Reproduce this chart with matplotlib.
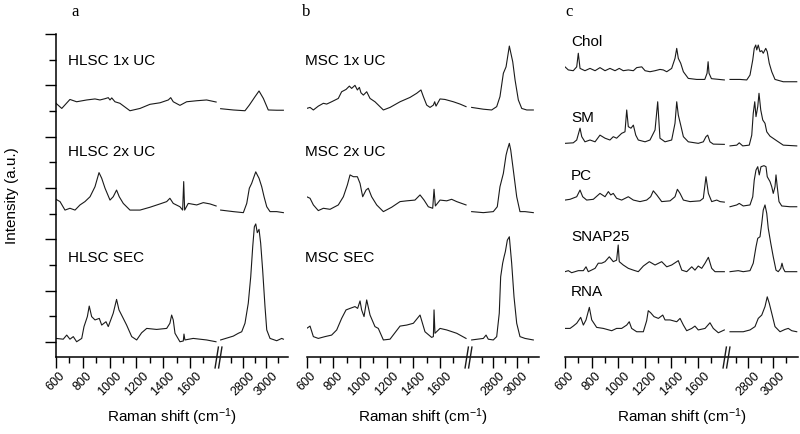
import numpy as np
import matplotlib
matplotlib.use("Agg")
import matplotlib.pyplot as plt
from matplotlib.path import Path
from matplotlib.transforms import blended_transform_factory

plt.rcParams['font.family'] = ['Liberation Sans', 'DejaVu Sans']
plt.rcParams['mathtext.fontset'] = 'custom'
plt.rcParams['mathtext.rm'] = 'Liberation Sans'
plt.rcParams['mathtext.it'] = 'Liberation Sans:italic'

# ---------------- data (Raman shift cm-1, intensity a.u. incl. stack offset) ----------------
# fp = fingerprint region, ch = C-H stretch region

hlsc_1x_fp_x = [600, 643, 704, 754, 829, 891, 928, 966, 990, 1003, 1016, 1040, 1077, 1152, 1227, 1301,
                1376, 1438, 1456, 1475, 1525, 1575, 1650, 1724, 1795]
hlsc_1x_fp_y = [9.30, 9.10, 9.45, 9.36, 9.43, 9.47, 9.43, 9.48, 9.52, 9.43, 9.51, 9.36, 9.30, 9.01, 9.10, 9.26,
                9.32, 9.43, 9.52, 9.36, 9.22, 9.36, 9.40, 9.43, 9.35]
hlsc_1x_ch_x = [2609, 2717, 2817, 2854, 2903, 2937, 2974, 3016, 3088, 3145]
hlsc_1x_ch_y = [9.09, 9.04, 9.01, 9.23, 9.56, 9.78, 9.49, 9.04, 9.03, 9.03]

hlsc_2x_fp_x = [600, 630, 667, 704, 742, 779, 816, 854, 891, 921, 941, 966, 1003, 1027, 1052, 1072, 1102,
                1152, 1227, 1301, 1376, 1426, 1450, 1475, 1525, 1545, 1553, 1560, 1587, 1650, 1699, 1749, 1795]
hlsc_2x_fp_y = [5.56, 5.47, 5.14, 5.21, 5.14, 5.34, 5.47, 5.66, 6.05, 6.60, 6.38, 5.99, 5.53, 5.66, 5.92, 5.66,
                5.40, 5.14, 5.14, 5.25, 5.38, 5.47, 5.60, 5.40, 5.27, 5.14, 6.25, 5.14, 5.40, 5.34, 5.43, 5.38, 5.30]
hlsc_2x_ch_x = [2609, 2717, 2803, 2832, 2854, 2874, 2894, 2909, 2922, 2937, 2960, 2980, 3003, 3031, 3088, 3145]
hlsc_2x_ch_y = [5.14, 5.08, 5.04, 5.40, 5.99, 6.18, 6.44, 6.63, 6.51, 6.38, 6.05, 5.66, 5.27, 5.08, 5.08, 5.04]

hlsc_sec_fp_x = [600, 654, 680, 704, 729, 754, 792, 809, 834, 848, 866, 891, 923, 941, 973, 990, 1027, 1052,
                 1070, 1102, 1127, 1165, 1202, 1239, 1277, 1351, 1426, 1450, 1463, 1475, 1488, 1525, 1550,
                 1555, 1562, 1624, 1674, 1724, 1794]
hlsc_sec_fp_y = [0.14, 0.11, 0.27, 0.11, 0.21, 0.01, 0.14, 0.60, 0.99, 1.40, 0.99, 0.86, 0.92, 0.66, 0.79,
                 0.60, 1.12, 1.66, 1.25, 0.92, 0.66, 0.21, 0.08, 0.36, 0.53, 0.49, 0.53, 0.73, 1.05, 0.86,
                 0.34, 0.01, 0.04, 0.31, 0.08, 0.14, 0.11, 0.08, 0.01]
hlsc_sec_ch_x = [2609, 2717, 2760, 2789, 2817, 2845, 2866, 2883, 2897, 2909, 2922, 2937, 2951, 2968, 2988,
                 3003, 3031, 3088, 3131, 3145]
hlsc_sec_ch_y = [0.08, 0.23, 0.34, 0.40, 0.73, 1.51, 2.54, 3.71, 4.49, 4.60, 4.26, 4.39, 3.85, 2.80, 1.38,
                 0.47, 0.14, 0.05, 0.14, 0.11]

msc_1x_fp_x = [600, 625, 650, 687, 725, 750, 787, 837, 862, 895, 920, 937, 962, 980, 995, 1007, 1025, 1050,
               1075, 1112, 1175, 1225, 1300, 1375, 1425, 1457, 1475, 1500, 1525, 1550, 1560, 1570, 1600,
               1637, 1700, 1750, 1795]
msc_1x_fp_y = [9.10, 9.14, 9.04, 9.19, 9.30, 9.27, 9.36, 9.49, 9.75, 9.84, 9.97, 9.88, 10.00, 9.82, 9.92,
               9.71, 9.62, 9.75, 9.49, 9.36, 9.04, 9.14, 9.36, 9.53, 9.69, 9.82, 9.56, 9.23, 9.14, 9.23,
               9.36, 9.19, 9.47, 9.45, 9.36, 9.27, 9.17]
msc_1x_ch_x = [2615, 2715, 2786, 2829, 2857, 2886, 2909, 2937, 2966, 2986, 3014, 3043, 3086, 3142]
msc_1x_ch_y = [9.14, 9.07, 9.04, 9.17, 9.56, 10.47, 10.72, 11.53, 10.92, 10.21, 9.43, 9.10, 9.04, 9.04]

msc_2x_fp_x = [600, 625, 650, 687, 725, 775, 837, 875, 905, 925, 950, 980, 1000, 1020, 1045, 1062, 1087,
               1125, 1175, 1237, 1300, 1350, 1412, 1450, 1480, 1512, 1545, 1555, 1565, 1600, 1650, 1687,
               1725, 1795]
msc_2x_fp_y = [5.66, 5.60, 5.34, 5.12, 5.21, 5.17, 5.34, 5.66, 6.12, 6.51, 6.44, 6.44, 6.18, 5.66, 5.92,
               5.99, 5.66, 5.34, 5.08, 5.25, 5.47, 5.50, 5.53, 5.73, 5.53, 5.27, 5.21, 5.95, 5.30, 5.53,
               5.50, 5.56, 5.47, 5.34]
msc_2x_ch_x = [2615, 2715, 2800, 2834, 2857, 2886, 2909, 2920, 2937, 2949, 2971, 3000, 3028, 3071, 3142]
msc_2x_ch_y = [5.08, 5.04, 5.08, 5.27, 6.05, 6.57, 7.28, 7.48, 7.74, 7.48, 6.70, 5.66, 5.08, 5.08, 5.04]

msc_sec_fp_x = [600, 625, 650, 687, 737, 787, 825, 862, 895, 925, 962, 982, 1000, 1012, 1030, 1050, 1075,
                1112, 1137, 1175, 1225, 1300, 1350, 1400, 1450, 1487, 1537, 1550, 1555, 1562, 1600, 1650,
                1725, 1795]
msc_sec_fp_y = [0.53, 0.62, 0.21, 0.14, 0.21, 0.27, 0.47, 0.92, 1.25, 1.31, 1.38, 1.31, 1.60, 1.25, 0.99,
                1.64, 1.05, 0.60, 0.53, 0.08, 0.11, 0.62, 0.66, 0.73, 1.05, 0.40, 0.18, 0.21, 1.25, 0.34,
                0.53, 0.47, 0.34, 0.14]
msc_sec_ch_x = [2615, 2715, 2738, 2757, 2800, 2829, 2851, 2863, 2880, 2892, 2903, 2920, 2937, 2957, 2977,
                3000, 3028, 3071, 3142]
msc_sec_ch_y = [0.08, 0.14, 0.27, 0.11, 0.08, 0.21, 1.12, 2.54, 3.07, 3.32, 3.52, 3.97, 4.10, 3.07, 1.76,
                0.73, 0.21, 0.14, 0.08]

chol_fp_x = [600, 625, 662, 688, 700, 713, 750, 788, 826, 863, 901, 938, 976, 1008, 1038, 1076, 1114, 1139,
             1177, 1202, 1239, 1277, 1314, 1339, 1365, 1402, 1427, 1440, 1452, 1470, 1490, 1527, 1590, 1651,
             1668, 1676, 1683, 1701, 1798]
chol_fp_y = [10.72, 10.60, 10.57, 10.72, 11.25, 10.66, 10.57, 10.66, 10.57, 10.69, 10.57, 10.66, 10.57,
             10.66, 10.57, 10.60, 10.57, 10.69, 10.72, 10.57, 10.53, 10.57, 10.62, 10.60, 10.53, 10.66,
             11.05, 11.44, 11.05, 10.86, 10.53, 10.27, 10.23, 10.23, 10.47, 10.92, 10.47, 10.26, 10.21]
chol_ch_x = [2656, 2736, 2790, 2816, 2838, 2850, 2862, 2870, 2882, 2896, 2910, 2922, 2942, 2954, 2970, 2990,
             3016, 3082, 3190]
chol_ch_y = [10.23, 10.23, 10.21, 10.40, 10.99, 11.44, 11.57, 11.38, 11.57, 11.31, 11.35, 11.25, 11.44,
             11.31, 10.86, 10.53, 10.23, 10.14, 10.14]

sm_fp_x = [600, 662, 688, 713, 726, 750, 788, 826, 863, 901, 938, 963, 988, 1026, 1051, 1064, 1076, 1096,
           1114, 1132, 1151, 1202, 1239, 1277, 1297, 1314, 1352, 1402, 1427, 1440, 1452, 1470, 1490, 1527,
           1602, 1640, 1660, 1673, 1690, 1715, 1798]
sm_fp_y = [7.74, 7.76, 7.87, 8.33, 8.00, 7.80, 7.87, 7.80, 8.06, 7.94, 7.87, 8.00, 7.94, 8.13, 8.19, 9.04,
           8.39, 8.33, 8.45, 8.06, 7.87, 7.80, 7.87, 8.26, 9.36, 7.94, 7.80, 7.87, 8.52, 9.36, 8.84, 8.45,
           8.00, 7.80, 7.74, 7.80, 8.00, 8.06, 7.80, 7.71, 7.70]
sm_ch_x = [2656, 2710, 2730, 2758, 2810, 2830, 2842, 2854, 2864, 2878, 2888, 2902, 2918, 2936, 2950, 2976,
           3030, 3082, 3190]
sm_ch_y = [7.64, 7.67, 7.76, 7.64, 7.67, 8.06, 8.91, 9.36, 8.78, 9.17, 9.69, 9.04, 8.65, 8.52, 8.19, 8.02,
           7.84, 7.67, 7.64]

pc_fp_x = [600, 638, 688, 713, 733, 763, 813, 863, 901, 926, 944, 963, 988, 1026, 1076, 1114, 1164, 1214,
           1244, 1264, 1290, 1327, 1390, 1427, 1445, 1465, 1490, 1540, 1615, 1640, 1660, 1678, 1703, 1741,
           1766, 1798]
pc_fp_y = [5.53, 5.56, 5.66, 5.92, 5.66, 5.53, 5.56, 5.79, 5.66, 5.86, 5.73, 5.79, 5.60, 5.53, 5.66, 5.53,
           5.47, 5.53, 5.66, 5.89, 5.73, 5.47, 5.50, 5.66, 5.95, 5.79, 5.53, 5.47, 5.50, 5.60, 6.44, 5.79,
           5.47, 5.53, 5.47, 5.45]
pc_ch_x = [2656, 2710, 2730, 2762, 2816, 2838, 2850, 2864, 2878, 2890, 2904, 2928, 2944, 2954, 2976, 2990,
           3002, 3016, 3024, 3034, 3048, 3070, 3136, 3190]
pc_ch_y = [5.27, 5.34, 5.40, 5.30, 5.34, 5.66, 6.31, 6.70, 6.83, 6.51, 6.83, 6.87, 6.83, 6.44, 6.25, 6.05,
           5.79, 6.05, 6.51, 6.05, 5.47, 5.30, 5.27, 5.27]

snap25_fp_x = [600, 625, 650, 700, 738, 758, 775, 826, 850, 876, 901, 933, 963, 988, 1000, 1008, 1038, 1076,
               1114, 1151, 1189, 1234, 1277, 1327, 1365, 1402, 1452, 1478, 1515, 1553, 1577, 1602, 1628,
               1653, 1678, 1703, 1728, 1798]
snap25_fp_y = [2.74, 2.78, 2.70, 2.78, 2.78, 2.93, 2.74, 2.87, 3.07, 3.07, 3.13, 3.32, 3.13, 3.19, 3.78,
               3.13, 3.00, 2.87, 2.80, 2.74, 2.96, 3.13, 3.00, 3.13, 2.93, 3.00, 3.17, 2.80, 2.74, 2.93,
               2.80, 2.96, 2.87, 3.07, 3.30, 2.87, 2.74, 2.74]
snap25_ch_x = [2656, 2722, 2762, 2816, 2842, 2864, 2878, 2896, 2910, 2922, 2936, 2950, 2962, 2982, 3002,
               3024, 3042, 3062, 3072, 3082, 3096, 3190]
snap25_ch_y = [2.74, 2.78, 2.74, 2.78, 3.07, 3.71, 4.04, 4.10, 4.62, 5.14, 5.34, 5.01, 4.43, 3.85, 3.32,
               2.80, 2.74, 2.87, 3.07, 2.87, 2.74, 2.74]

rna_fp_x = [600, 638, 662, 688, 718, 738, 758, 783, 801, 838, 888, 951, 988, 1026, 1064, 1083, 1101, 1139,
            1189, 1214, 1226, 1244, 1269, 1302, 1335, 1352, 1390, 1440, 1465, 1490, 1515, 1553, 1577, 1602,
            1653, 1690, 1715, 1753, 1798]
rna_fp_y = [0.53, 0.53, 0.62, 0.73, 0.96, 0.66, 0.86, 1.35, 0.86, 0.57, 0.53, 0.44, 0.53, 0.53, 0.66, 0.79,
            0.53, 0.40, 0.40, 0.83, 1.22, 1.14, 0.99, 0.92, 1.05, 0.86, 0.86, 0.79, 0.92, 0.66, 0.44, 0.53,
            0.62, 0.47, 0.53, 0.75, 0.53, 0.36, 0.47]
rna_ch_x = [2656, 2762, 2816, 2856, 2882, 2910, 2936, 2954, 2970, 2990, 3016, 3056, 3096, 3122, 3150, 3190]
rna_ch_y = [0.40, 0.40, 0.47, 0.60, 0.92, 1.05, 1.38, 1.76, 1.51, 1.12, 0.60, 0.40, 0.49, 0.53, 0.44, 0.40]

panel_letters = ['a', 'b', 'c']
labels_a = ['HLSC 1x UC', 'HLSC 2x UC', 'HLSC SEC']
labels_b = ['MSC 1x UC', 'MSC 2x UC', 'MSC SEC']
labels_c = ['Chol', 'SM', 'PC', 'SNAP25', 'RNA']
label_y_ab = [10.95, 7.40, 3.27]
label_y_c = [11.69, 8.73, 6.47, 4.09, 1.95]

major_ticks = [600, 800, 1000, 1200, 1400, 1600, 2800, 3000]
minor_ticks = [700, 900, 1100, 1300, 1500, 1700, 2700, 2900, 3100]

# ---------------- layout ----------------
W, H = 800, 434
fig = plt.figure(figsize=(W / 100, H / 100), dpi=100)

y_top, y_bot = 34, 357
# per panel: axes left/right in px, knot data values -> px positions (broken axis)
panels = [
    dict(x0=56, x1=288, dk=[600, 1800, 2600, 3200], pk=[56, 216.8, 219.6, 289.8]),
    dict(x0=306.7, x1=539, dk=[600, 1800, 2600, 3200], pk=[306.7, 466.7, 469.9, 540.1]),
    dict(x0=565, x1=798, dk=[600, 1800, 2640, 3200], pk=[565, 724.6, 728, 798]),
]

spectra = [
    [(hlsc_1x_fp_x, hlsc_1x_fp_y, hlsc_1x_ch_x, hlsc_1x_ch_y),
     (hlsc_2x_fp_x, hlsc_2x_fp_y, hlsc_2x_ch_x, hlsc_2x_ch_y),
     (hlsc_sec_fp_x, hlsc_sec_fp_y, hlsc_sec_ch_x, hlsc_sec_ch_y)],
    [(msc_1x_fp_x, msc_1x_fp_y, msc_1x_ch_x, msc_1x_ch_y),
     (msc_2x_fp_x, msc_2x_fp_y, msc_2x_ch_x, msc_2x_ch_y),
     (msc_sec_fp_x, msc_sec_fp_y, msc_sec_ch_x, msc_sec_ch_y)],
    [(chol_fp_x, chol_fp_y, chol_ch_x, chol_ch_y),
     (sm_fp_x, sm_fp_y, sm_ch_x, sm_ch_y),
     (pc_fp_x, pc_fp_y, pc_ch_x, pc_ch_y),
     (snap25_fp_x, snap25_fp_y, snap25_ch_x, snap25_ch_y),
     (rna_fp_x, rna_fp_y, rna_ch_x, rna_ch_y)],
]
texts = [(labels_a, label_y_ab, 690), (labels_b, label_y_ab, 590), (labels_c, label_y_c, 645)]
letter_px = [75, 306, 569]

# "//" break marker
brk = Path([(-3.5, -11), (0, 11), (0, -11), (3.5, 11)],
           [Path.MOVETO, Path.LINETO, Path.MOVETO, Path.LINETO])


def make_scale(dk, pk):
    dk = list(dk)
    pk = list(pk)
    s0 = (pk[1] - pk[0]) / (dk[1] - dk[0])
    s1 = (pk[-1] - pk[-2]) / (dk[-1] - dk[-2])
    dke = np.array([dk[0] - 1e5] + dk + [dk[-1] + 1e5])
    pke = np.array([pk[0] - 1e5 * s0] + pk + [pk[-1] + 1e5 * s1])

    def fwd(x):
        return np.interp(x, dke, pke)

    def inv(p):
        return np.interp(p, pke, dke)
    return fwd, inv


for i, p in enumerate(panels):
    ax = fig.add_axes([p['x0'] / W, (H - y_bot) / H, (p['x1'] - p['x0']) / W, (y_bot - y_top) / H])
    fwd, inv = make_scale(p['dk'], p['pk'])
    ax.set_xscale('function', functions=(fwd, inv))
    ax.set_xlim(600, float(inv(p['x1'])))
    ax.set_ylim(-0.584, 12)

    for fx, fy, cx, cy in spectra[i]:
        ax.plot(fx, fy, color='#1a1a1a', lw=0.8)
        ax.plot(cx, cy, color='#1a1a1a', lw=0.8)

    names, ys, tx = texts[i]
    for name, ty in zip(names, ys):
        ax.text(tx, ty, name, fontsize=11, va='center', ha='left')

    ax.set_xticks(major_ticks)
    ax.set_xticks(minor_ticks, minor=True)
    ax.set_xticklabels([str(t) for t in major_ticks], rotation=45, fontsize=9)
    ax.tick_params(axis='x', which='major', direction='out', length=8, width=1.0, pad=1)
    ax.tick_params(axis='x', which='minor', direction='out', length=4.5, width=1.0)

    for s in ['top', 'right']:
        ax.spines[s].set_visible(False)
    ax.spines['bottom'].set_linewidth(1.1)
    if i == 0:
        ax.spines['left'].set_linewidth(1.1)
        ax.set_yticks(range(0, 13, 2))
        ax.set_yticks(range(1, 12, 2), minor=True)
        ax.set_yticklabels([])
        ax.tick_params(axis='y', which='major', direction='out', length=8, width=1.0)
        ax.tick_params(axis='y', which='minor', direction='out', length=5, width=1.0)
    else:
        ax.spines['left'].set_visible(False)
        ax.set_yticks([])
        ax.tick_params(axis='y', which='both', left=False)

    ax.set_xlabel('Raman shift (cm$^{-1}$)', fontsize=11, labelpad=6)

    # break marker on the x axis, in the gap between the two ranges
    gap_mid = 0.5 * (p['dk'][1] + p['dk'][2])
    trans = blended_transform_factory(ax.transData, ax.transAxes)
    ax.plot([gap_mid], [0], marker=brk, markersize=16, color='#1a1a1a', mew=1.0,
            transform=trans, clip_on=False, zorder=5)

    fig.text(letter_px[i] / W, 1 - 12 / H, panel_letters[i], fontsize=12,
             family='Liberation Serif', ha='center', va='center')

fig.text(12 / W, 1 - 196 / H, 'Intensity (a.u.)', rotation=90, fontsize=11, ha='center', va='center')

fig.savefig('out.png', dpi=100, facecolor='white')
